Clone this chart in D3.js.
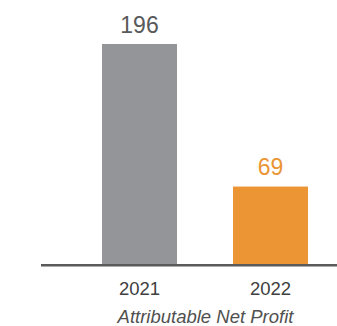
<!DOCTYPE html>
<html>
<head>
<meta charset="utf-8">
<script src="https://cdn.jsdelivr.net/npm/d3@7"></script>
<style>
  html, body { margin: 0; padding: 0; background: #fff; }
  svg { display: block; font-family: "Liberation Sans", Arial, sans-serif; }
</style>
</head>
<body>
<svg id="chart" width="337" height="326"></svg>
<script>
// Attributable net profit by year
const years = ["2021", "2022"];
const profit = [196, 69];
const barColors = ["#939598", "#eb9535"];
const labelColors = ["#58595b", "#eb9535"];
const chartTitle = "Attributable Net Profit";

const svg = d3.select("#chart");

const x = d3.scaleBand()
  .domain(years)
  .range([102, 308])
  .paddingInner(56 / 131)
  .paddingOuter(0);

const y = d3.scaleLinear()
  .domain([0, 196])
  .range([264, 44]);

const data = years.map((yr, i) => ({ year: yr, value: profit[i], i }));

// bars
svg.selectAll("rect.bar")
  .data(data)
  .join("rect")
  .attr("class", "bar")
  .attr("x", d => x(d.year))
  .attr("width", x.bandwidth())
  .attr("y", d => y(d.value))
  .attr("height", d => y(0) - y(d.value))
  .attr("fill", d => barColors[d.i]);

// value labels above bars
svg.selectAll("text.val")
  .data(data)
  .join("text")
  .attr("class", "val")
  .attr("x", d => x(d.year) + x.bandwidth() / 2)
  .attr("y", d => y(d.value) - 11.5)
  .attr("text-anchor", "middle")
  .attr("font-size", 23)
  .attr("fill", d => labelColors[d.i])
  .text(d => d.value);

// baseline axis
const axis = svg.append("g")
  .attr("transform", `translate(0, ${y(0)})`)
  .call(d3.axisBottom(x).tickSize(0).tickPadding(18));
axis.select(".domain").remove();
axis.append("line")
  .attr("x1", 41).attr("x2", 337)
  .attr("y1", 1.3).attr("y2", 1.3)
  .attr("stroke", "#5a5a5a")
  .attr("stroke-width", 2.6);
axis.selectAll(".tick text")
  .attr("font-family", "Liberation Sans, Arial, sans-serif")
  .attr("font-size", 18.5)
  .attr("fill", "#404040");

// category title
svg.append("text")
  .attr("x", 205.5)
  .attr("y", 323)
  .attr("text-anchor", "middle")
  .attr("font-size", 18.5)
  .attr("font-style", "italic")
  .attr("fill", "#505050")
  .text(chartTitle);
</script>
</body>
</html>
